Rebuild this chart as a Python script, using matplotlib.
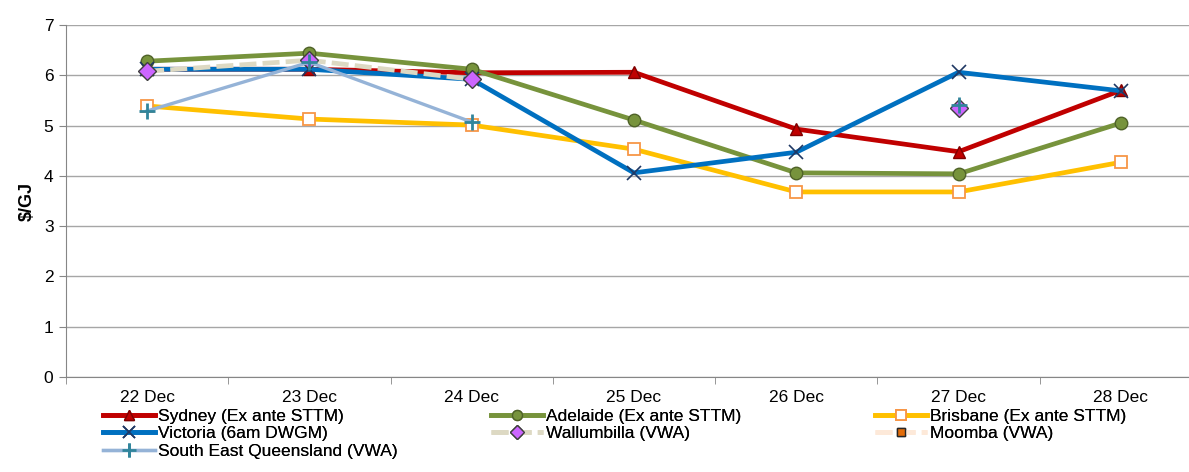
import matplotlib
matplotlib.use("Agg")
import matplotlib.pyplot as plt
import numpy as np

nan = np.nan

dates = ["22 Dec", "23 Dec", "24 Dec", "25 Dec", "26 Dec", "27 Dec", "28 Dec"]
sydney = [6.12, 6.12, 6.05, 6.06, 4.93, 4.48, 5.70]
adelaide = [6.28, 6.44, 6.12, 5.11, 4.06, 4.04, 5.05]
brisbane = [5.39, 5.13, 5.01, 4.53, 3.68, 3.68, 4.27]
victoria = [6.12, 6.12, 5.92, 4.06, 4.47, 6.06, 5.69]
wallumbilla = [6.08, 6.30, 5.92, nan, nan, 5.35, nan]
moomba = [nan, nan, nan, nan, nan, nan, nan]
seq = [5.29, 6.26, 5.07, nan, nan, 5.40, nan]

plt.rcParams['font.family'] = ['Liberation Sans', 'DejaVu Sans']

fig = plt.figure(figsize=(11.89, 4.72), dpi=100)
ax = fig.add_axes([66 / 1189, 95 / 472, 1136 / 1189, 352 / 472])

x = np.arange(len(dates))

# draw order follows the series order, later series on top
h_syd, = ax.plot(x, sydney, color='#C00000', lw=3.4, marker='^', ms=9,
                 mfc='#C00000', mec='#7F0000', label='Sydney (Ex ante STTM)', zorder=3.0)
h_ade, = ax.plot(x, adelaide, color='#77933C', lw=3.4, marker='o', ms=9,
                 mfc='#77933C', mec='#4F6228', label='Adelaide (Ex ante STTM)', zorder=3.1)
h_bri, = ax.plot(x, brisbane, color='#FFC000', lw=3.4, marker='s', ms=8.5,
                 mfc='white', mec='#F79646', mew=1.3, label='Brisbane (Ex ante STTM)', zorder=3.2)
h_vic, = ax.plot(x, victoria, color='#0070C0', lw=3.4, marker='x', ms=10,
                 mec='#1F3864', mew=1.2, label='Victoria (6am DWGM)', zorder=3.3)
h_wal, = ax.plot(x, wallumbilla, color='#DDD9C3', lw=3.4, ls=(0, (3.6, 1.3)), marker='D', ms=9,
                 mfc='#CC66FF', mec='#3F3F3F', label='Wallumbilla (VWA)', zorder=3.4)
h_moo, = ax.plot(x, moomba, color='#FDE9D9', lw=3.4, ls=(0, (3.6, 1.3)), marker='s', ms=7.5,
                 mfc='#E36C09', mec='#262626', label='Moomba (VWA)', zorder=3.5)
h_seq, = ax.plot(x, seq, color='#95B3D7', lw=2.4, marker='+', ms=12,
                 mec='#31859C', mew=2, label='South East Queensland (VWA)', zorder=3.6)

ax.set_xlim(-0.5, 6.5)
ax.set_ylim(0, 7)
ax.set_yticks(range(0, 8))
ax.set_xticks(x)
ax.set_xticklabels(dates, fontsize=12.5)
ax.set_xticks(np.arange(-0.5, 7, 1), minor=True)
ax.tick_params(axis='x', which='major', length=0, pad=9)
ax.tick_params(axis='x', which='minor', length=5, color='#868686')
ax.tick_params(axis='y', length=5, color='#868686', labelsize=12.5, pad=4)
ax.grid(axis='y', color='#A6A6A6', lw=1)
ax.set_axisbelow(True)
for s in ['top', 'right']:
    ax.spines[s].set_visible(False)
for s in ['left', 'bottom']:
    ax.spines[s].set_color('#868686')
ax.set_ylabel(r'\$/GJ', fontsize=13, fontweight='bold', labelpad=6)

cols = [[h_syd, h_vic, h_seq], [h_ade, h_wal], [h_bri, h_moo]]
xs = [103, 491, 875]
for hs, xp in zip(cols, xs):
    leg = fig.legend(handles=hs, loc='upper left', bbox_to_anchor=(xp / 1189, 1 - 409 / 472),
                     frameon=False, fontsize=12.5, handlelength=3.0, handletextpad=0.15,
                     labelspacing=0.12, borderaxespad=0, borderpad=0, markerscale=0.8)
    fig.add_artist(leg)

fig.savefig('out.png', dpi=100)
